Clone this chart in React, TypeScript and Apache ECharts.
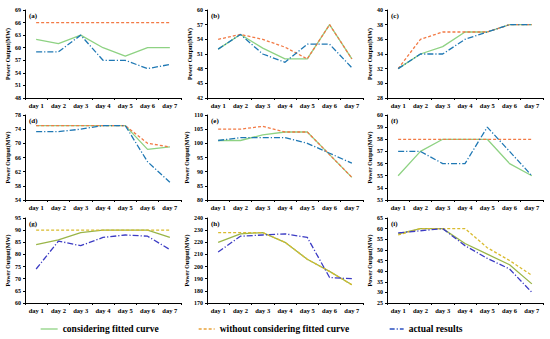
import React, { useEffect, useRef } from "react";
import * as echarts from "echarts";

const days = ["day 1", "day 2", "day 3", "day 4", "day 5", "day 6", "day 7"];
const panelLabels = ["(a)", "(b)", "(c)", "(d)", "(e)", "(f)", "(g)", "(h)", "(i)"];
const yMin = [48, 42, 28, 54, 80, 53, 60, 170, 25];
const yMax = [69, 60, 40, 78, 110, 60, 95, 240, 65];
const yStep = [3, 3, 2, 4, 5, 1, 5, 10, 5];

const considering = [
  [62, 61, 63, 60, 58, 60, 60],
  [52, 55, 52.2, 50, 50, 57, 50],
  [32, 34, 35, 37, 37, 38, 38],
  [75, 75, 75, 75, 75, 68.3, 69],
  [101, 101, 103, 104, 104, 96, 88],
  [55, 57, 58, 58, 58, 56, 55],
  [84, 86, 89, 90, 90, 90, 87],
  [220, 227, 228, 220, 206, 196, 185],
  [57.5, 60, 60, 53, 48, 43, 34],
];
const without = [
  [66, 66, 66, 66, 66, 66, 66],
  [54, 55, 54, 52.4, 50, 57, 50],
  [32, 36, 37, 37, 37, 38, 38],
  [75, 75, 75, 75, 75, 70, 69],
  [105, 105, 106, 104, 104, 96, 88],
  [58, 58, 58, 58, 58, 58, 58],
  [90, 90, 90, 90, 90, 90, 90],
  [228, 228, 228, 220, 206, 196, 185],
  [57, 60, 60, 60, 51, 45, 38],
];
const actual = [
  [59, 59, 63, 57, 57, 55, 56],
  [52, 55, 51, 49.3, 53, 53, 48.2],
  [32, 34, 34, 36, 37, 38, 38],
  [73.3, 73.3, 74, 75, 75, 64.8, 59],
  [101, 102, 102, 102, 100, 96.5, 93],
  [57, 57, 56, 56, 59, 57, 55],
  [74, 85.5, 83.6, 87, 88, 87.5, 82],
  [212, 225, 226, 227, 224, 191, 190],
  [58, 59, 60, 52, 46, 41, 30],
];

const seriesNames = ["considering fitted curve", "without considering fitted curve", "actual results"];

const colLeft = [25, 207, 387];
const colWidth = 156;
const rowTop = [10, 115, 218];
const rowHeight = [88, 85, 85];

const FONT = "'Liberation Serif', 'Times New Roman', serif";

export default function App() {
  const ref = useRef<HTMLDivElement>(null);
  useEffect(() => {
    if (!ref.current) return;
    const chart = echarts.init(ref.current, null, { renderer: "svg" });
    const grids: any[] = [];
    const xAxes: any[] = [];
    const yAxes: any[] = [];
    const series: any[] = [];
    const graphics: any[] = [];
    for (let i = 0; i < 9; i++) {
      const r = Math.floor(i / 3);
      const c = i % 3;
      const bottomRow = r === 2;
      const cGreen = bottomRow ? "#9AB548" : "#8ED283";
      const cOrange = bottomRow ? "#D9BB2E" : "#F27A45";
      const cBlue = bottomRow ? "#3C3CC4" : "#1F78B4";
      grids.push({ left: colLeft[c], top: rowTop[r], width: colWidth, height: rowHeight[r] });
      xAxes.push({
        type: "category",
        gridIndex: i,
        data: days,
        axisLine: { lineStyle: { color: "#000", width: 1 } },
        axisTick: { show: true, length: 2, lineStyle: { color: "#000" } },
        axisLabel: { fontSize: 6.5, fontWeight: "bold", fontFamily: FONT, color: "#000", margin: 4 },
      });
      const ticks: number[] = [];
      for (let v = yMin[i]; v <= yMax[i] + 1e-9; v += yStep[i]) ticks.push(v);
      yAxes.push({
        type: "value",
        gridIndex: i,
        min: yMin[i],
        max: yMax[i],
        name: "Power Output(MW)",
        nameLocation: "middle",
        nameGap: 14,
        nameTextStyle: { fontSize: 6, fontWeight: "bold", fontFamily: FONT, color: "#000" },
        splitLine: { show: false },
        axisLine: { show: true, lineStyle: { color: "#000", width: 1 } },
        axisTick: { show: true, length: 2, lineStyle: { color: "#000" }, customValues: ticks },
        axisLabel: { fontSize: 6, fontWeight: "bold", fontFamily: FONT, color: "#000", margin: 4, customValues: ticks },
      });
      series.push({
        name: seriesNames[0],
        type: "line",
        xAxisIndex: i,
        yAxisIndex: i,
        data: considering[i],
        showSymbol: false,
        symbol: "none",
        lineStyle: { color: cGreen, width: 1.3 },
        itemStyle: { color: cGreen },
      });
      series.push({
        name: seriesNames[1],
        type: "line",
        xAxisIndex: i,
        yAxisIndex: i,
        data: without[i],
        showSymbol: false,
        symbol: "none",
        lineStyle: { color: cOrange, width: 1.3, type: [3, 2] },
        itemStyle: { color: cOrange },
      });
      series.push({
        name: seriesNames[2],
        type: "line",
        xAxisIndex: i,
        yAxisIndex: i,
        data: actual[i],
        showSymbol: false,
        symbol: "none",
        lineStyle: { color: cBlue, width: 1.3, type: [6, 2, 1.2, 2] },
        itemStyle: { color: cBlue },
      });
      graphics.push({
        type: "text",
        left: colLeft[c] + 4,
        top: rowTop[r] + 2,
        style: { text: panelLabels[i], font: `bold 7px ${FONT}`, fill: "#000" },
      });
    }
    const hidden = { color: "rgba(0,0,0,0)", borderColor: "rgba(0,0,0,0)", borderWidth: 0, opacity: 0 };
    const legendBase = {
      top: 324,
      padding: 0,
      itemHeight: 8,
      textStyle: { fontSize: 9.5, fontWeight: "bold", fontFamily: FONT, color: "#000" },
      selectedMode: false,
    };
    chart.setOption({
      animation: false,
      backgroundColor: "#fff",
      grid: grids,
      xAxis: xAxes,
      yAxis: yAxes,
      series,
      graphic: graphics,
      legend: [
        {
          ...legendBase,
          left: 40,
          itemWidth: 17,
          data: [{ name: seriesNames[0], lineStyle: { color: "#8ED283", width: 1.3 }, itemStyle: hidden }],
        },
        {
          ...legendBase,
          left: 198,
          itemWidth: 16,
          data: [{ name: seriesNames[1], lineStyle: { color: "#E9A23B", width: 1.3, type: [3, 2] }, itemStyle: hidden }],
        },
        {
          ...legendBase,
          left: 389,
          itemWidth: 14,
          data: [{ name: seriesNames[2], lineStyle: { color: "#2A4FC0", width: 1.3, type: [5, 2, 1.2, 2] }, itemStyle: hidden }],
        },
      ],
    });
    return () => chart.dispose();
  }, []);
  return (
    <div
      ref={ref}
      style={{ position: "fixed", left: 0, top: 0, width: 550, height: 339, background: "#fff" }}
    />
  );
}
